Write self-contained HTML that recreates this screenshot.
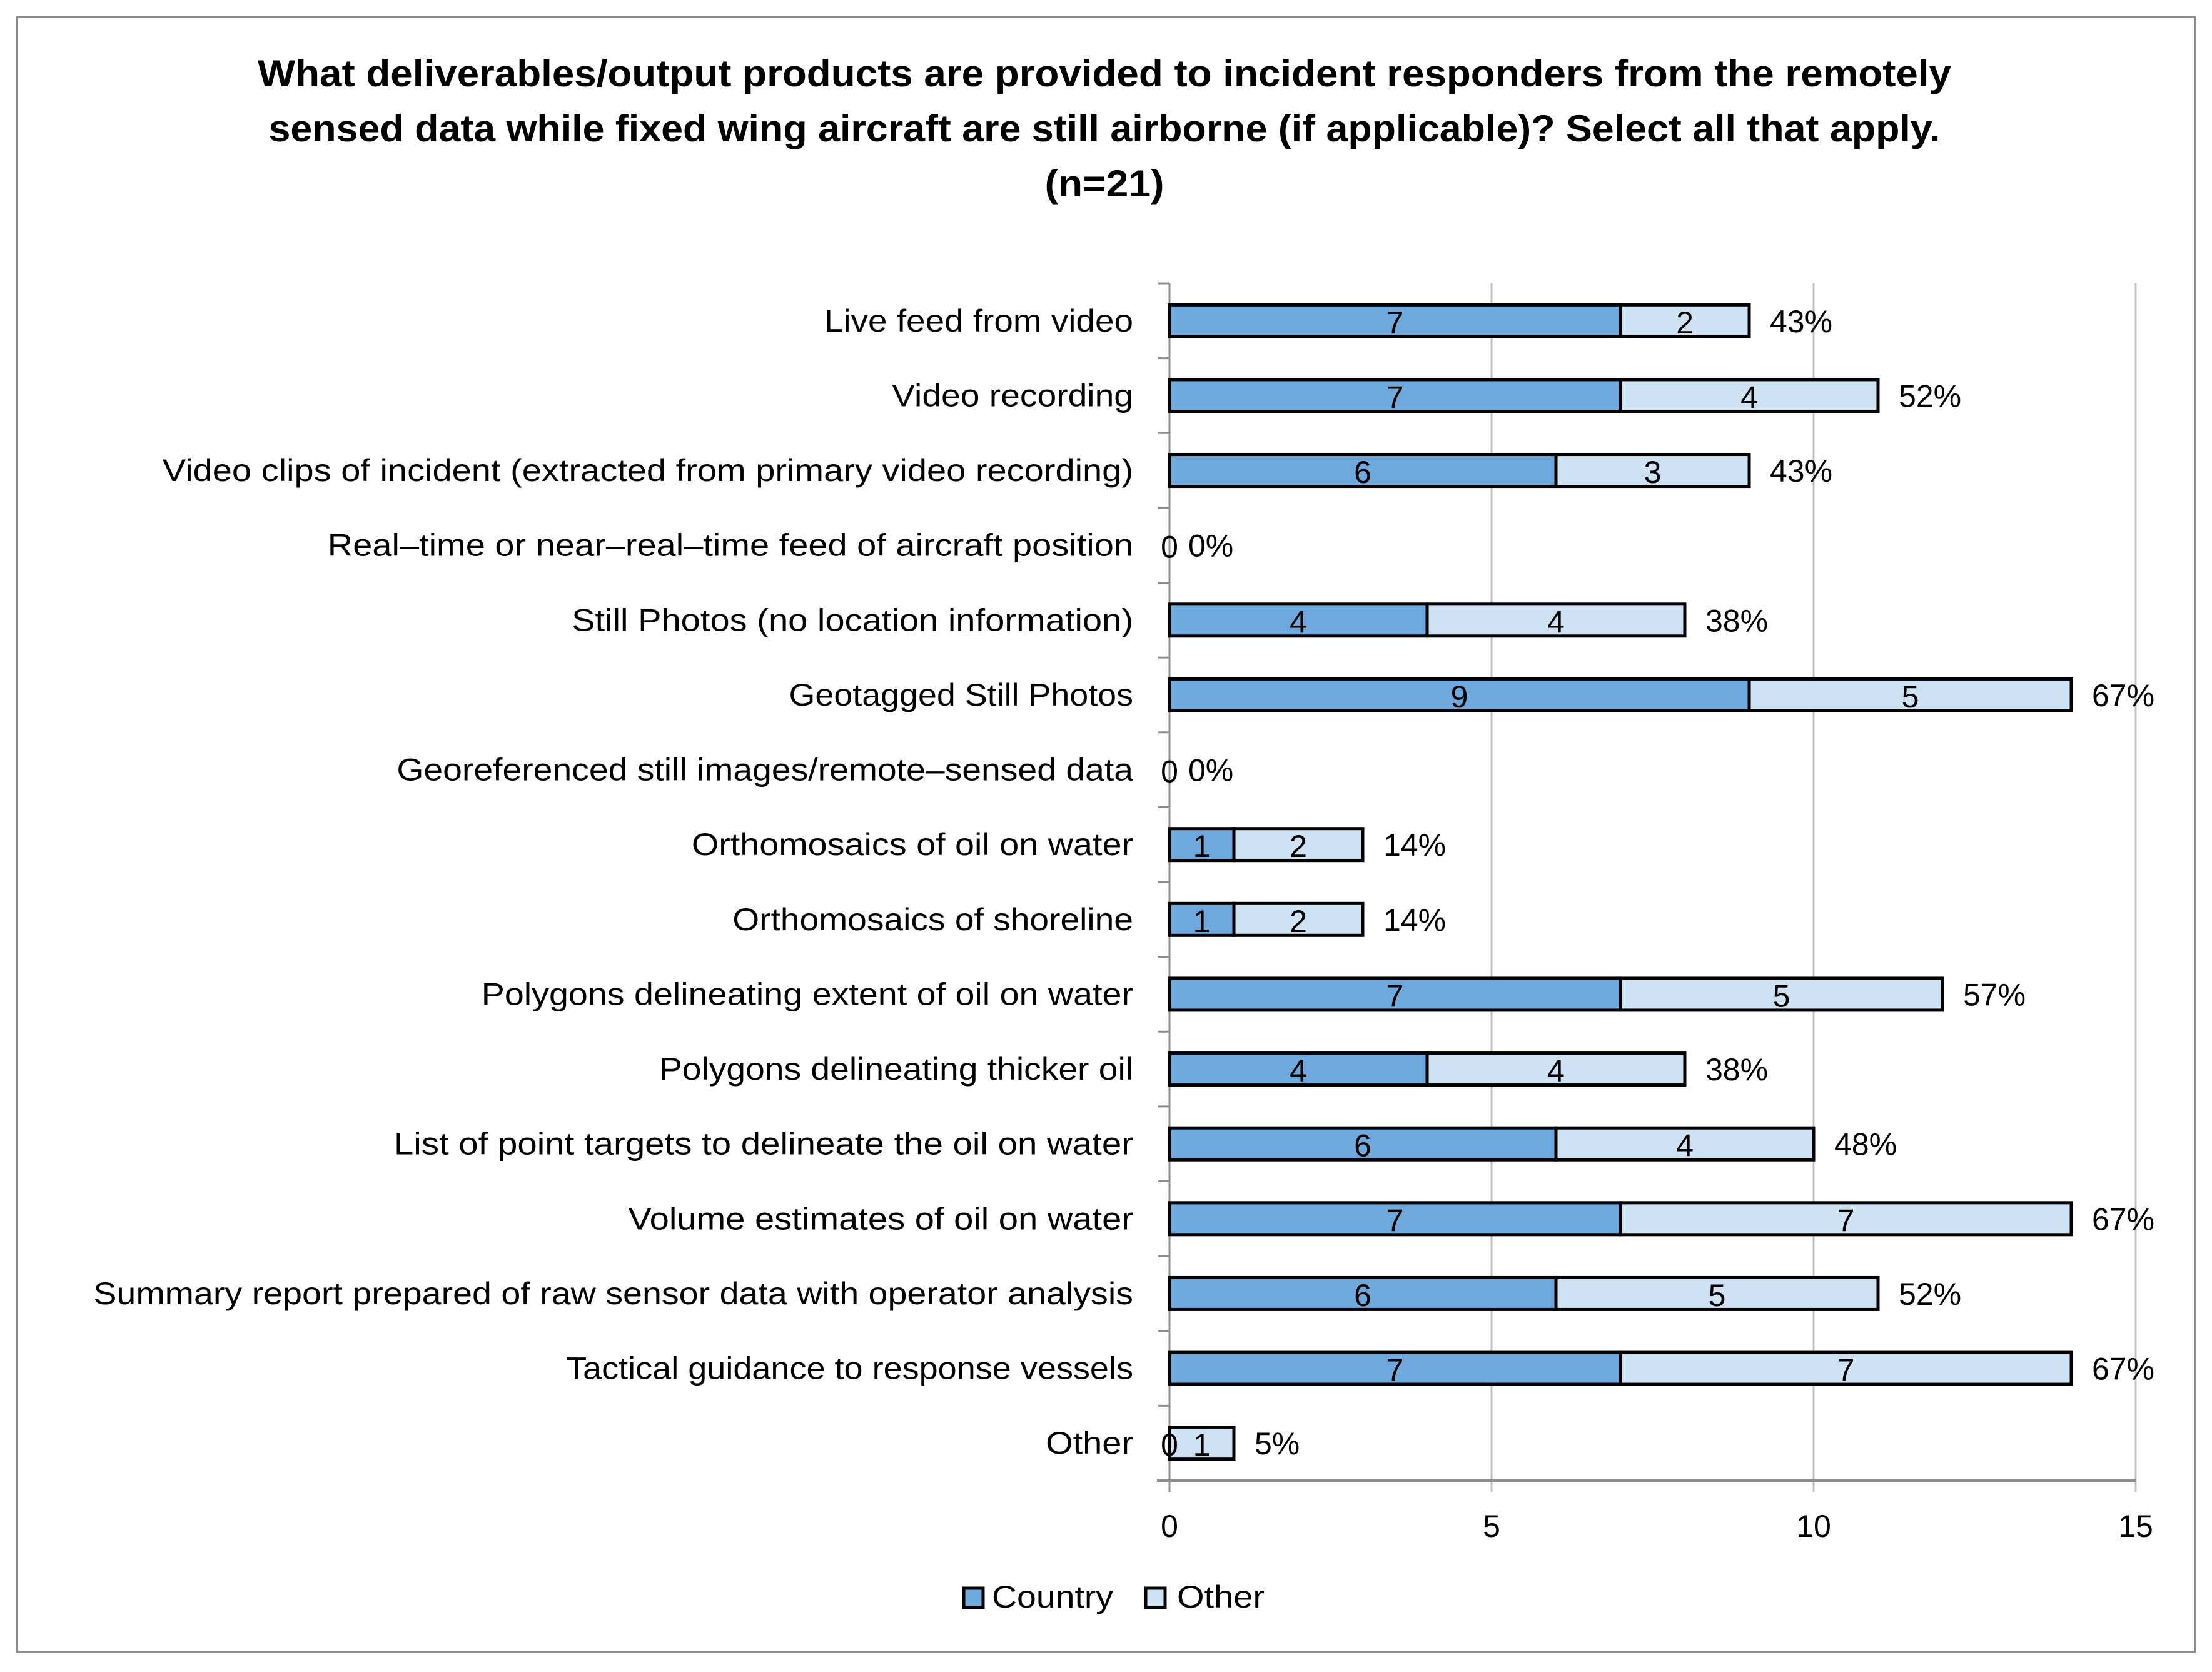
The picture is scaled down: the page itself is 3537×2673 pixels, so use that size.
<!DOCTYPE html>
<html><head><meta charset="utf-8"><style>
body{margin:0;background:#fff}
svg text{font-family:"Liberation Sans",sans-serif}
</style></head><body>
<svg id="chart" width="3537" height="2668" xmlns="http://www.w3.org/2000/svg">
<rect x="27" y="27" width="3483" height="2614" fill="#fff" stroke="#8c8c8c" stroke-width="3"/>
<g font-weight="bold" font-size="60" text-anchor="middle">
<text x="1766" y="138" textLength="2708" lengthAdjust="spacingAndGlyphs">What deliverables/output products are provided to incident responders from the remotely</text>
<text x="1766" y="226" textLength="2673" lengthAdjust="spacingAndGlyphs">sensed data while fixed wing aircraft are still airborne (if applicable)? Select all that apply.</text>
<text x="1766" y="314" textLength="191" lengthAdjust="spacingAndGlyphs">(n=21)</text>
</g>
<g id="plot"></g>
<g>
<rect x="1541" y="2539" width="31" height="31" fill="#6fa8dc" stroke="#000" stroke-width="5"/>
<text x="1586" y="2570" font-size="50" textLength="194" lengthAdjust="spacingAndGlyphs">Country</text>
<rect x="1832" y="2539" width="31" height="31" fill="#cfe2f3" stroke="#000" stroke-width="5"/>
<text x="1882" y="2570" font-size="50" textLength="140" lengthAdjust="spacingAndGlyphs">Other</text>
</g>
</svg>
<script>
const categories=["Live feed from video","Video recording","Video clips of incident (extracted from primary video recording)","Real\u2013time or near\u2013real\u2013time feed of aircraft position","Still Photos (no location information)","Geotagged Still Photos","Georeferenced still images/remote\u2013sensed data","Orthomosaics of oil on water","Orthomosaics of shoreline","Polygons delineating extent of oil on water","Polygons delineating thicker oil","List of point targets to delineate the oil on water","Volume estimates of oil on water","Summary report prepared of raw sensor data with operator analysis","Tactical guidance to response vessels","Other"];
const countryValues=[7,7,6,0,4,9,0,1,1,7,4,6,7,6,7,0];
const otherValues=[2,4,3,0,4,5,0,2,2,5,4,4,7,5,7,1];
const labelWidths=[219,171,688,571,398,244,522,313,284,462,336,524,358,737,402,62];
const xTicks=[0,5,10,15];
const N=21;
const X0=1870,PX=103,TOP=453,BOT=2367;
const band=(BOT-TOP)/categories.length;
const x=v=>X0+v*PX;
const yc=i=>TOP+band*(i+0.5);
const NS="http://www.w3.org/2000/svg";
const plot=document.getElementById('plot');
function mk(tag,attrs,parent){const e=document.createElementNS(NS,tag);for(const k in attrs)e.setAttribute(k,attrs[k]);(parent||plot).appendChild(e);return e;}
xTicks.forEach(t=>{
  if(t>0){const g=mk('line',{x1:x(t),x2:x(t),y1:TOP,y2:BOT+18,stroke:'#bfbfbf','stroke-width':3});
  
  }
  const tl=mk('text',{x:x(t),y:2457,'font-size':50,'text-anchor':'middle'});
  tl.textContent=t;
  
  
});
const ax=mk('line',{x1:X0-20,x2:x(15),y1:BOT,y2:BOT,stroke:'#8c8c8c','stroke-width':4});


const ay=mk('line',{x1:X0,x2:X0,y1:TOP,y2:BOT+18,stroke:'#8c8c8c','stroke-width':3});


for(let i=0;i<categories.length;i++){
  const t=mk('line',{x1:X0-18,x2:X0,y1:TOP+band*i,y2:TOP+band*i,stroke:'#8c8c8c','stroke-width':3});
  
  
}
const bh=51;
categories.forEach((c,i)=>{
  const y=yc(i);
  const lab=mk('text',{x:1812,y:y+17,'font-size':50,'text-anchor':'end',textLength:labelWidths[i]*2.256,lengthAdjust:'spacingAndGlyphs'});
  lab.textContent=c;
  
  
  const cv=countryValues[i],ov=otherValues[i],tot=cv+ov;
  if(cv>0){const r=mk('rect',{x:x(0),y:y-bh/2,width:cv*PX,height:bh,fill:'#6fa8dc',stroke:'#000','stroke-width':5});
    
    }
  if(ov>0){const r=mk('rect',{x:x(cv),y:y-bh/2,width:ov*PX,height:bh,fill:'#cfe2f3',stroke:'#000','stroke-width':5});
    
    }
  const l1=mk('text',{x:x(cv/2),y:y+20,'font-size':50,'text-anchor':'middle'});
  l1.textContent=cv;
  
  
  if(ov>0){const l2=mk('text',{x:x(cv+ov/2),y:y+20,'font-size':50,'text-anchor':'middle'});
    l2.textContent=ov;
    
    }
  const p=mk('text',{x:tot>0?x(tot)+33:x(0)+30,y:y+18,'font-size':50});
  p.textContent=Math.round(tot/N*100)+'%';
  
  
});
</script>
</body></html>
